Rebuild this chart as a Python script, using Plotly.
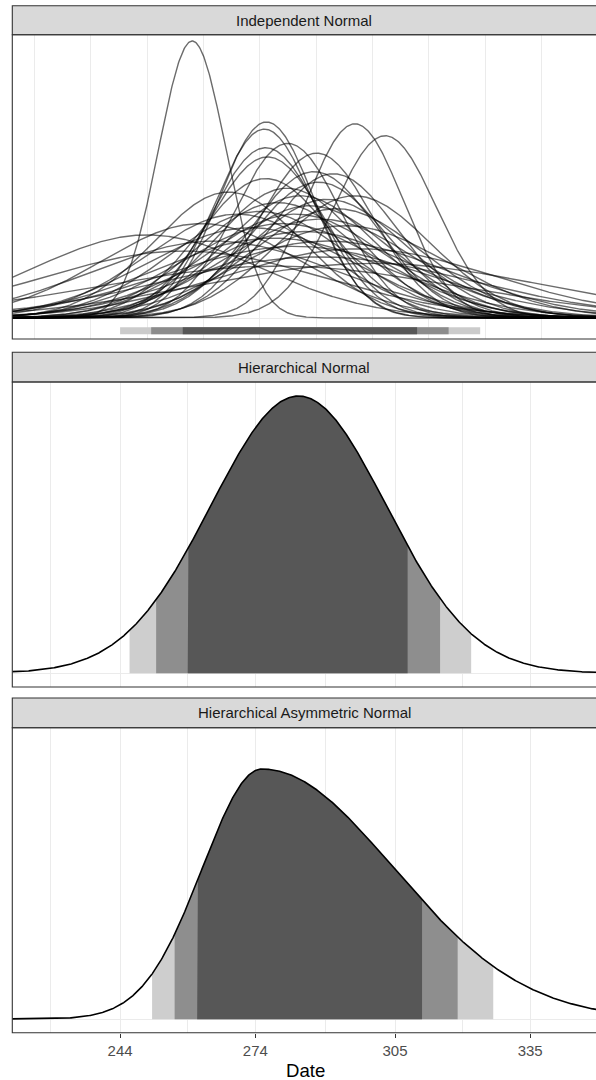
import numpy as np
import plotly.graph_objects as go

# ---------------- data ----------------
panel_titles = ["Independent Normal", "Hierarchical Normal", "Hierarchical Asymmetric Normal"]

# x axis (day of year)
date_tickvals = [244, 274, 305, 335]
date_ticktext = ["244", "274", "305", "335"]
date_minorvals = [228.5, 259, 289.5, 320, 350.5]
top_gridvals = [225, 250, 275, 300, 325, 350]
top_minorvals = [237.5, 262.5, 287.5, 312.5, 337.5]
x_range = [220.08, 349.6]

# Independent Normal: one normal density per unit (mean, sd)
indep_means = [260.0, 276.5, 276.0, 296.1, 302.8, 281.2, 276.3, 287.6, 276.7, 291.3,
               276.3, 287.0, 281.0, 288.0, 284.0, 290.0, 279.0, 286.0, 292.0, 275.0,
               283.0, 288.5, 270.0, 280.0, 294.0, 273.0, 285.0, 250.0, 278.0, 290.0,
               265.0, 283.0, 297.0, 258.0, 288.0, 300.0, 279.0, 262.0, 296.0, 268.0]
indep_sds = [7.5, 10.6, 11.0, 10.7, 11.4, 11.9, 12.2, 12.6, 12.9, 14.4,
             14.9, 14.2, 16.0, 15.3, 17.0, 17.5, 18.0, 18.5, 19.0, 19.5,
             20.0, 21.0, 20.0, 22.0, 22.5, 23.0, 24.0, 25.0, 26.0, 27.0,
             27.0, 29.0, 30.0, 31.0, 34.0, 38.0, 40.0, 22.0, 17.0, 16.5]
# interval bar under the Independent Normal panel: (low, high) for 95 / 90 / 80 %
indep_interval_lo = [244.0, 250.9, 257.9]
indep_interval_hi = [323.9, 316.9, 309.9]

# Hierarchical Normal
hier_mean = 283.6
hier_sd = 19.4
hier_band_lo = [246.1, 252.0, 259.0]
hier_band_hi = [321.9, 315.0, 307.8]

# Hierarchical Asymmetric Normal (split normal: mode, left sd, right sd)
asym_mode = 275.5
asym_sd_left = 13.2
asym_sd_right = 29.1
asym_band_lo = [251.1, 256.1, 261.1]
asym_band_hi = [326.8, 318.9, 311.0]

band_colors = ["#cecece", "#8e8e8e", "#575757"]

# ---------------- helpers ----------------
W, H = 596, 1080
PL = 12.3  # left edge of panels in px


def py(px):
    return 1 - px / H


def norm_pdf(x, m, s):
    return np.exp(-0.5 * ((x - m) / s) ** 2) / (s * np.sqrt(2 * np.pi))


def split_pdf(x, m, s1, s2):
    c = 2.0 / (np.sqrt(2 * np.pi) * (s1 + s2))
    s = np.where(x < m, s1, s2)
    return c * np.exp(-0.5 * ((x - m) / s) ** 2)


# panel geometry (px): strip top, strip bottom(=body top), body bottom, baseline, peak px
geo = [
    dict(st=5.7, bt=34.7, bb=339.0, base=318.0, peak=41.0),
    dict(st=352.3, bt=382.0, bb=687.0, base=673.3, peak=396.0),
    dict(st=698.0, bt=727.7, bb=1032.7, base=1019.3, peak=769.0),
]

xs = np.linspace(214, 356, 900)

fig = go.Figure()

# ---- top panel: independent normals ----
top_peak = max(norm_pdf(m, m, s) for m, s in zip(indep_means, indep_sds))
for m, s in zip(indep_means, indep_sds):
    fig.add_trace(go.Scatter(x=xs, y=norm_pdf(xs, m, s), mode="lines",
                             line=dict(color="rgba(0,0,0,0.58)", width=1.4),
                             xaxis="x", yaxis="y", showlegend=False, hoverinfo="skip"))

g = geo[0]
s_top = (g["base"] - g["peak"]) / top_peak
bar_center = -(330.8 - g["base"]) / s_top
bar_width = 7.0 / s_top
for lo, hi, col in zip(indep_interval_lo, indep_interval_hi, ["#cbcbcb", "#8c8c8c", "#575757"]):
    fig.add_trace(go.Bar(x=[hi - lo], base=[lo], y=[bar_center], orientation="h",
                         width=bar_width, marker=dict(color=col, line=dict(width=0)),
                         xaxis="x", yaxis="y", showlegend=False, hoverinfo="skip"))
yr_top = [-(g["bb"] - g["base"]) / s_top, (g["base"] - g["bt"]) / s_top]


# ---- middle / bottom panels ----
def add_slab(pdf, lows, highs, xa, ya):
    for lo, hi, col in zip(lows, highs, band_colors):
        bx = np.linspace(lo, hi, 300)
        by = pdf(bx)
        fig.add_trace(go.Scatter(x=np.concatenate([[lo], bx, [hi]]),
                                 y=np.concatenate([[0], by, [0]]),
                                 fill="toself", fillcolor=col, mode="lines",
                                 line=dict(width=0, color=col),
                                 xaxis=xa, yaxis=ya, showlegend=False, hoverinfo="skip"))
    fig.add_trace(go.Scatter(x=xs, y=pdf(xs), mode="lines",
                             line=dict(color="black", width=1.6),
                             xaxis=xa, yaxis=ya, showlegend=False, hoverinfo="skip"))


mid_pdf = lambda x: norm_pdf(x, hier_mean, hier_sd)
add_slab(mid_pdf, hier_band_lo, hier_band_hi, "x2", "y2")
g = geo[1]
s_mid = (g["base"] - g["peak"]) / mid_pdf(hier_mean)
yr_mid = [-(g["bb"] - g["base"]) / s_mid, (g["base"] - g["bt"]) / s_mid]

bot_pdf = lambda x: split_pdf(x, asym_mode, asym_sd_left, asym_sd_right)
add_slab(bot_pdf, asym_band_lo, asym_band_hi, "x3", "y3")
g = geo[2]
s_bot = (g["base"] - g["peak"]) / float(bot_pdf(np.array([asym_mode]))[0])
yr_bot = [-(g["bb"] - g["base"]) / s_bot, (g["base"] - g["bt"]) / s_bot]

# ---------------- layout ----------------
FONT = "Liberation Sans, Arial, sans-serif"
grid = "#ebebeb"
xdom = [PL / W, 1.0]


def xaxis(i, tickvals, minorvals, labels):
    d = dict(range=x_range, domain=xdom, anchor="y" if i == 0 else f"y{i+1}",
             tickmode="array", tickvals=tickvals, showgrid=True, gridcolor=grid,
             gridwidth=1.1, zeroline=False, showline=False, fixedrange=True,
             minor=dict(tickmode="array", tickvals=minorvals, showgrid=True,
                        gridcolor=grid, gridwidth=0.6, ticks=""))
    if labels:
        d.update(ticktext=date_ticktext, showticklabels=True, ticks="outside",
                 ticklen=4, tickwidth=1, tickcolor="#333333",
                 tickfont=dict(family=FONT, size=15, color="#4d4d4d"))
    else:
        d.update(showticklabels=False, ticks="")
    return d


def yaxis(i, rng):
    g = geo[i]
    return dict(range=rng, domain=[py(g["bb"]), py(g["bt"])],
                anchor="x" if i == 0 else f"x{i+1}",
                showgrid=False, zeroline=True, zerolinecolor=grid, zerolinewidth=1.1,
                showticklabels=False, ticks="", showline=False, fixedrange=True)


shapes = []
annotations = []
for i, g in enumerate(geo):
    shapes.append(dict(type="rect", xref="paper", yref="paper",
                       x0=PL / W, x1=1.02, y0=py(g["bt"]), y1=py(g["st"]),
                       fillcolor="#d9d9d9", line=dict(color="#333333", width=1.1),
                       layer="above"))
    shapes.append(dict(type="rect", xref="paper", yref="paper",
                       x0=PL / W, x1=1.02, y0=py(g["bb"]), y1=py(g["bt"]),
                       fillcolor="rgba(0,0,0,0)", line=dict(color="#333333", width=1.1),
                       layer="above"))
    annotations.append(dict(text=panel_titles[i], xref="paper", yref="paper",
                            x=(PL + W) / 2 / W, y=py((g["st"] + g["bt"]) / 2),
                            xanchor="center", yanchor="middle", showarrow=False,
                            font=dict(family=FONT, size=15, color="#1a1a1a")))

annotations.append(dict(text="Date", xref="paper", yref="paper",
                        x=305.4 / W, y=py(1070), xanchor="center", yanchor="middle",
                        showarrow=False, font=dict(family=FONT, size=18.6, color="black")))

fig.update_layout(
    width=W, height=H,
    margin=dict(l=0, r=0, t=0, b=0),
    paper_bgcolor="white", plot_bgcolor="white",
    showlegend=False, barmode="overlay",
    xaxis=xaxis(0, top_gridvals, top_minorvals, False),
    xaxis2=xaxis(1, date_tickvals, date_minorvals, False),
    xaxis3=xaxis(2, date_tickvals, date_minorvals, True),
    yaxis=yaxis(0, yr_top),
    yaxis2=yaxis(1, yr_mid),
    yaxis3=yaxis(2, yr_bot),
    shapes=shapes, annotations=annotations,
    font=dict(family=FONT),
)

fig.write_html("out.html", config=dict(displayModeBar=False),
               post_script="document.body.style.margin='0';document.body.style.overflow='hidden';")
